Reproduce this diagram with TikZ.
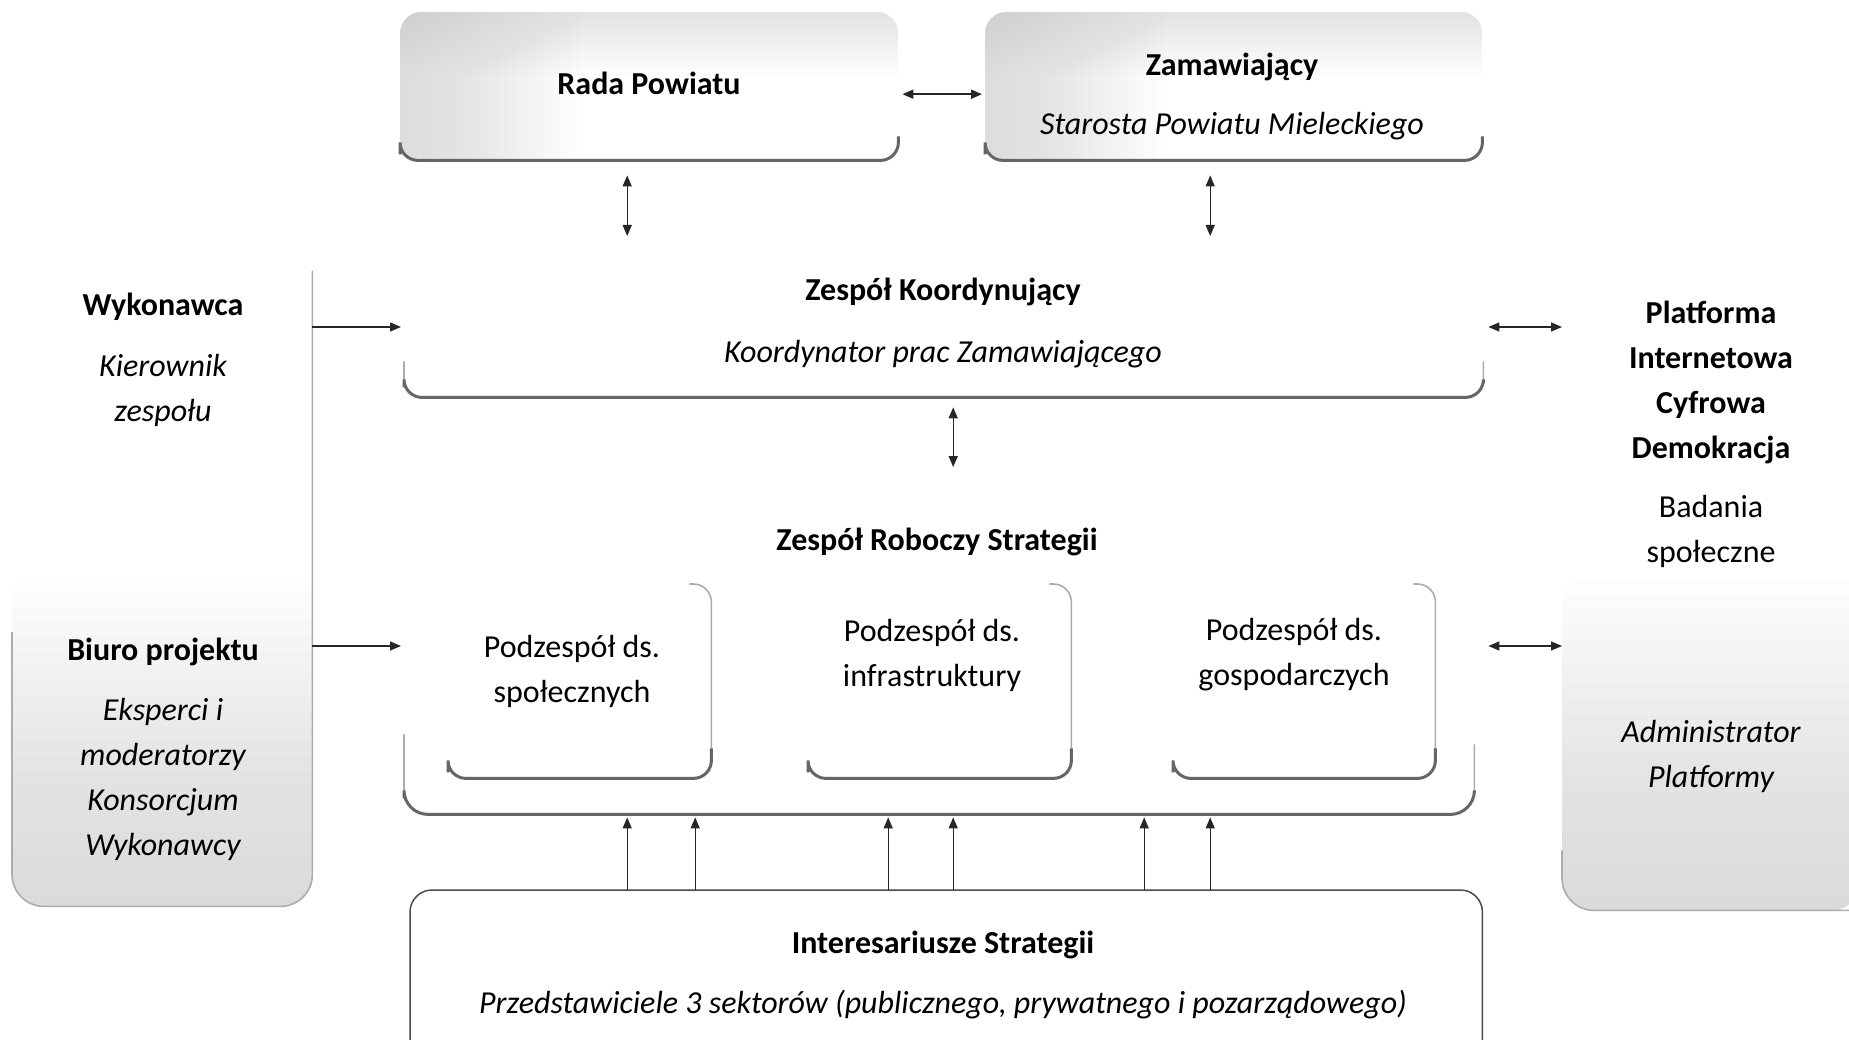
\documentclass[tikz,border=0pt]{standalone}
\usepackage{fontspec}
\setmainfont{Carlito}
\usetikzlibrary{calc,arrows.meta}
\tikzset{
  tx/.style={inner sep=0pt, align=center, font=\fontsize{32}{45}\selectfont},
  bt/.style={tx, font=\fontsize{32}{45}\selectfont\bfseries},
  it/.style={tx, font=\fontsize{32}{45}\selectfont\itshape},
  frame/.style={rectangle, inner sep=0pt, anchor=north west},
  shadw/.style={draw=black!60, line width=3pt},
  thinl/.style={draw=gray!65, line width=1.6pt},
  interl/.style={draw=black!70, line width=1.5pt},
  stip/.style={fill=gray!50, opacity=0.026},
  arr/.style={-{Triangle[length=11pt,width=9pt]}, line width=1.4pt, draw=black!85},
  dbl/.style={{Triangle[length=11pt,width=9pt]}-{Triangle[length=11pt,width=9pt]}, line width=1.4pt, draw=black!85},
}
\begin{document}
\begin{tikzpicture}[x=1pt,y=-1pt]
\useasboundingbox (0,0) rectangle (1849,1040);
\fill[white] (0,0) rectangle (1849,1040);

% ---------- box areas ----------
\node[frame, minimum width=498pt, minimum height=148pt] (rada) at (400,12) {};
\node[frame, minimum width=497pt, minimum height=148pt] (zam) at (985,12) {};
\node[frame, minimum width=1079pt, minimum height=135pt] (koord) at (404,262) {};
\node[frame, minimum width=1070pt, minimum height=307pt] (robo) at (404,507) {};
\node[frame, minimum width=263pt, minimum height=194pt] (spol) at (448,584) {};
\node[frame, minimum width=263pt, minimum height=194pt] (infra) at (808,584) {};
\node[frame, minimum width=262pt, minimum height=194pt] (gosp) at (1173,584) {};
\node[frame, minimum width=1072pt, minimum height=170pt] (inter) at (410,890) {};
\node[frame, minimum width=300pt, minimum height=635pt] (wyk) at (12,271) {};
\node[frame, minimum width=300pt, minimum height=334pt] (biuro) at (12,572) {};
\node[frame, minimum width=300pt, minimum height=338pt] (admin) at (1562,572) {};

% ---------- top boxes stipple ----------
\foreach \b in {rada,zam}{
  \begin{scope}
    \clip[rounded corners=22] (\b.north west) rectangle (\b.south east);
    \foreach \i in {1,...,20}{
      \fill[stip] (\b.north west) rectangle ($(\b.south west)+({\i*9},0)$);
    }
    \foreach \i in {1,...,14}{
      \fill[stip] (\b.north west) rectangle ($(\b.north east)+(0,{\i*4.5})$);
    }
  \end{scope}
  \draw[shadw, rounded corners=18] ($(\b.south west)+(0,-6)$) |- (\b.south) -| ($(\b.south east)+(0,-24)$);
}

% ---------- Zespol Koordynujacy ----------
\draw[thinl, rounded corners=18] ($(koord.south west)+(0,-36)$) |- (koord.south) -| ($(koord.south east)+(0,-36)$);
\draw[shadw, rounded corners=18] ($(koord.south west)+(0,-10)$) |- (koord.south) -| ($(koord.south east)+(0,-14)$);

% ---------- Zespol Roboczy ----------
\draw[thinl, rounded corners=24] ($(robo.south west)+(0,-80)$) |- (robo.south) -| ($(robo.south east)+(0,-70)$);
\draw[shadw, rounded corners=24] ($(robo.south west)+(0,-16)$) |- (robo.south) -| ($(robo.south east)+(0,-22)$);

\foreach \b in {spol,infra,gosp}{
  \draw[thinl, rounded corners=18] ($(\b.north east)+(-22,0)$) -| (\b.south east) -- (\b.south);
  \draw[shadw, rounded corners=18] ($(\b.south east)+(0,-30)$) |- (\b.south) -| ($(\b.south west)+(0,-6)$);
}

% ---------- Interesariusze ----------
\draw[interl, rounded corners=22] (inter.south west) |- (inter.north) -| (inter.south east);

% ---------- Wykonawca / Biuro ----------
\foreach \b in {biuro,admin}{
  \begin{scope}
    \clip[rounded corners=32] (\b.north west) rectangle (\b.south east);
    \foreach \i in {1,...,22}{
      \fill[stip] (\b.south west) rectangle ($(\b.south east)+(0,{-\i*15})$);
    }
  \end{scope}
}
\draw[thinl, rounded corners=32] (wyk.north east) |- (wyk.south) -| ($(biuro.north west)+(0,60)$);
\draw[thinl, rounded corners=32] ($(admin.south west)+(0,-60)$) |- (admin.south east);

% ---------- texts ----------
\node[bt] (t-rada) at (649,83) {Rada Powiatu};
\node[bt] (t-zam) at (1232,67) {Zamawiający};
\node[it] (t-star) at (1232,126) {Starosta Powiatu Mieleckiego};
\node[bt] (t-koord) at (943,292) {Zespół Koordynujący};
\node[it] (t-koordi) at (943,354) {Koordynator prac Zamawiającego};
\node[bt] (t-robo) at (937,542) {Zespół Roboczy Strategii};
\node[tx] (t-spol) at (572,671) {Podzespół ds.\\społecznych};
\node[tx] (t-infra) at (932,655) {Podzespół ds.\\infrastruktury};
\node[tx] (t-gosp) at (1294,655) {Podzespół ds.\\gospodarczych};
\node[bt] (t-inter) at (943,945) {Interesariusze Strategii};
\node[it] (t-interi) at (943,1005) {Przedstawiciele 3 sektorów (publicznego, prywatnego i pozarządowego)};
\node[bt] (t-wyk) at (163,307) {Wykonawca};
\node[it] (t-kier) at (163,390) {Kierownik\\zespołu};
\node[bt] (t-biuro) at (163,652) {Biuro projektu};
\node[it] (t-eksp) at (163,779) {Eksperci i\\moderatorzy\\Konsorcjum\\Wykonawcy};
\node[bt] (t-plat) at (1711,382) {Platforma\\Internetowa\\Cyfrowa\\Demokracja};
\node[tx] (t-bad) at (1711,531) {Badania\\społeczne};
\node[it] (t-adm) at (1711,756) {Administrator\\Platformy};

% ---------- connectors ----------
\coordinate (l1) at (0,327);
\coordinate (l2) at (0,646);
\draw[dbl, line width=2pt] ($(rada.east)+(4,8)$) -- ($(zam.west)+(-3,8)$);
\draw[dbl] ($(rada.south)+(-22,15)$) -- ($(koord.north)+(-316.5,-26)$);
\draw[dbl] ($(zam.south)+(-23.5,15)$) -- ($(koord.north)+(266.5,-26)$);
\draw[dbl] ($(koord.south)+(9.5,10)$) -- ($(robo.north)+(14,-40)$);
\draw[arr] (wyk.east |- l1) -- ($(koord.west |- l1)+(-3,0)$);
\draw[arr] (wyk.east |- l2) -- ($(robo.west |- l2)+(-3,0)$);
\draw[dbl] ($(koord.east |- l1)+(5,0)$) -- (admin.west |- l1);
\draw[dbl] ($(robo.east |- l2)+(14,0)$) -- (admin.west |- l2);
\foreach \x in {627,695,888,953,1144,1210}{
  \draw[arr] ($(inter.north)+(\x-946,0)$) -- ($(robo.south)+(\x-939,3)$);
}
\end{tikzpicture}
\end{document}
